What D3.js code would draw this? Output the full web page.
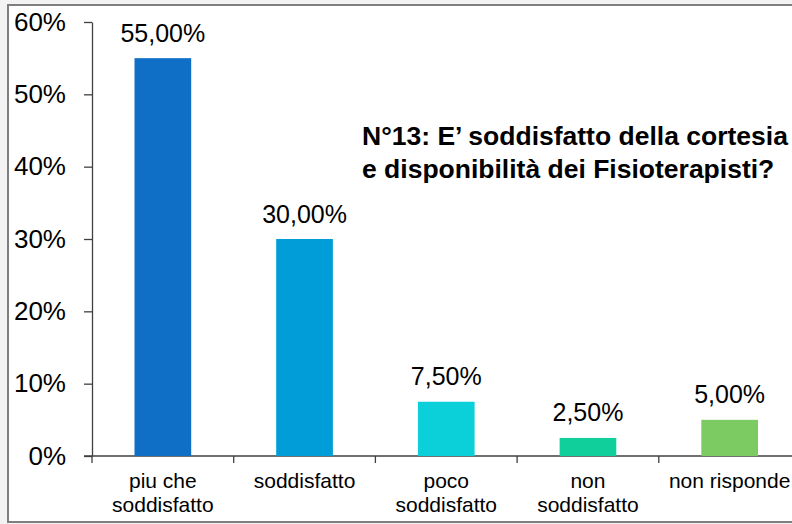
<!DOCTYPE html>
<html lang="it">
<head>
<meta charset="utf-8">
<title>N°13 Fisioterapisti</title>
<style>
  body { margin: 0; background: #f3f3f3; }
  svg { display: block; font-family: "Liberation Sans", Arial, sans-serif; }
  .axis path, .axis line { stroke: #404040; stroke-width: 1.3px; }
</style>
</head>
<body>
<svg id="chart" width="792" height="524"></svg>
<script src="https://d3js.org/d3.v7.min.js"></script>
<script>
// categories (two-line labels) and values
var categories = ["piu che soddisfatto", "soddisfatto", "poco soddisfatto", "non soddisfatto", "non risponde"];
var labelLines = [["piu che", "soddisfatto"], ["soddisfatto"], ["poco", "soddisfatto"], ["non", "soddisfatto"], ["non risponde"]];
var values = [55, 30, 7.5, 2.5, 5];
var colors = ["#0F6FC6", "#009DD9", "#0BD0D9", "#10CF9B", "#7CCA62"];
var yTicks = [0, 10, 20, 30, 40, 50, 60];
var titleLines = ["N°13: E’ soddisfatto della cortesia", "e disponibilità dei Fisioterapisti?"];

var svg = d3.select("#chart");

// frame
svg.append("rect")
    .attr("x", 8).attr("y", 5)
    .attr("width", 800).attr("height", 517)
    .attr("fill", "#fff")
    .attr("stroke", "#7f7f7f")
    .attr("stroke-width", 2);

var plotLeft = 92, plotRight = 800.5, plotTop = 22, plotBottom = 456;

var x = d3.scaleBand().domain(categories).range([plotLeft, plotRight]).padding(0);
var y = d3.scaleLinear().domain([0, 60]).range([plotBottom, plotTop]);
var barW = x.bandwidth() * 0.4;

// y axis
var yAxis = svg.append("g")
    .attr("class", "axis")
    .attr("transform", "translate(" + plotLeft + ",0)")
    .call(d3.axisLeft(y).tickValues(yTicks).tickSize(8).tickSizeOuter(0)
        .tickFormat(function(d) { return d + "%"; }));
yAxis.selectAll("text")
    .attr("x", -26)
    .attr("fill", "#000")
    .style("font-size", "26px");

// x axis: line plus ticks at band edges
var xg = svg.append("g").attr("class", "axis");
xg.append("line")
    .attr("x1", plotLeft - 8).attr("x2", 800)
    .attr("y1", plotBottom).attr("y2", plotBottom);
xg.selectAll(".xt")
    .data(categories)
    .enter().append("line")
    .attr("class", "xt")
    .attr("x1", function(d) { return x(d); })
    .attr("x2", function(d) { return x(d); })
    .attr("y1", plotBottom).attr("y2", plotBottom + 7);

// bars
svg.append("g").selectAll("rect")
    .data(values)
    .enter().append("rect")
    .attr("x", function(d, i) { return x(categories[i]) + (x.bandwidth() - barW) / 2; })
    .attr("y", function(d) { return y(d); })
    .attr("width", barW)
    .attr("height", function(d) { return plotBottom - y(d); })
    .attr("fill", function(d, i) { return colors[i]; });

// data labels
svg.append("g").selectAll("text")
    .data(values)
    .enter().append("text")
    .attr("x", function(d, i) { return x(categories[i]) + x.bandwidth() / 2; })
    .attr("y", function(d) { return y(d) - 16.5; })
    .attr("text-anchor", "middle")
    .style("font-size", "25px")
    .text(function(d) { return d.toFixed(2).replace(".", ",") + "%"; });

// category labels
var cl = svg.append("g").selectAll("text")
    .data(categories)
    .enter().append("text")
    .attr("text-anchor", "middle")
    .style("font-size", "21px")
    .attr("x", function(d) { return x(d) + x.bandwidth() / 2; })
    .attr("y", 488);
cl.selectAll("tspan")
    .data(function(d, i) { return labelLines[i]; })
    .enter().append("tspan")
    .attr("x", function() { return d3.select(this.parentNode).attr("x"); })
    .attr("dy", function(d, i) { return i === 0 ? 0 : 24; })
    .text(function(d) { return d; });

// title
svg.append("g").selectAll("text")
    .data(titleLines)
    .enter().append("text")
    .attr("x", 362)
    .attr("y", function(d, i) { return 145 + i * 33; })
    .style("font-size", "26.5px")
    .style("font-weight", "bold")
    .text(function(d) { return d; });
</script>
</body>
</html>
